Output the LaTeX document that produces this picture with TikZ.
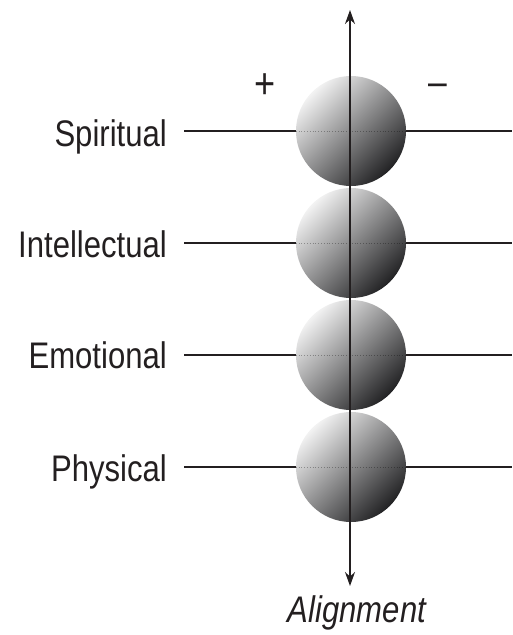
\documentclass[tikz,border=0pt]{standalone}
\usepackage{fontspec}
\setmainfont{Liberation Sans}[FakeStretch=0.84]
\usetikzlibrary{arrows.meta}
\definecolor{ink}{HTML}{231F20}
\definecolor{balltop}{HTML}{F2F2F2}
\definecolor{ballmid}{HTML}{A0A0A2}
\definecolor{ballbot}{HTML}{222224}
\tikzset{
  x=1pt, y=-1pt,
  ball/.style={circle, minimum size=110pt, inner sep=0pt,
    top color=balltop, middle color=ballmid, bottom color=ballbot, shading angle=45},
  lab/.style={anchor=base east, inner sep=0pt, text=ink, font=\fontsize{37}{40}\selectfont},
  sign/.style={inner sep=0pt, text=ink, font=\fontsize{43}{46}\selectfont},
  rule/.style={draw=ink, line width=1.5pt},
  inner/.style={draw=black, draw opacity=0.3, dotted, line width=0.8pt},
}
\begin{document}
\begin{tikzpicture}
\useasboundingbox (0,0) rectangle (512,635);
% spheres
\node[ball] (s1) at (351,131) {};
\node[ball] (s2) at (351,243) {};
\node[ball] (s3) at (351,355) {};
\node[ball] (s4) at (351,467) {};
% labels
\node[lab] (t1) at (167,146) {Spiritual};
\node[lab] (t2) at (167,257) {Intellectual};
\node[lab] (t3) at (167,368) {Emotional};
\node[lab] (t4) at (167,481) {Physical};
% line ends
\foreach \i/\y in {1/131,2/243,3/355,4/467}{
  \coordinate (l\i) at (184,\y);
  \coordinate (r\i) at (512,\y);
  \draw[inner] (s\i.west) -- (s\i.east);
  \draw[rule] (l\i) -- (s\i.west);
  \draw[rule] (s\i.east) -- (r\i);
}
% signs
\node[sign] (plus) at (265,86) {+};
\node[sign, font=\fontsize{40}{44}\selectfont] (minus) at (438,90) {–};
% axis
\coordinate (top) at (350,10);
\coordinate (bot) at (350,586);
\draw[rule, {Stealth[length=14pt,width=10pt]}-{Stealth[length=14pt,width=10pt]}] (bot) -- (top);
\node[lab, anchor=base, font=\fontsize{37}{40}\selectfont\itshape] (al) at (357,622) {Alignment};
\end{tikzpicture}
\end{document}
